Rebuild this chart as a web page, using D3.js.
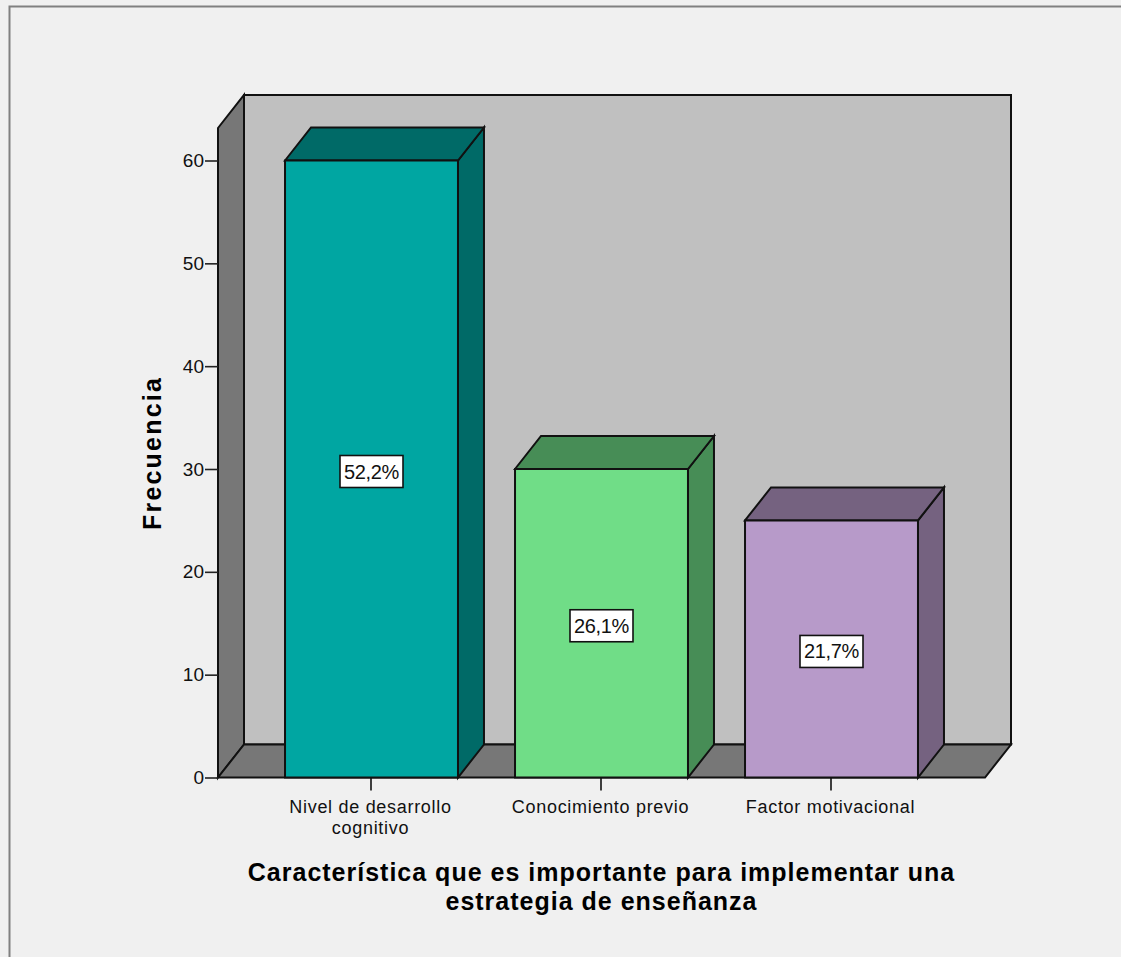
<!DOCTYPE html>
<html><head><meta charset="utf-8">
<script src="https://cdnjs.cloudflare.com/ajax/libs/d3/7.8.5/d3.min.js"></script>
<style>html,body{margin:0;padding:0;background:#fff}svg{display:block}text{font-family:"Liberation Sans",Arial,sans-serif;fill:#111}</style>
</head><body><div id="c"></div>
<script>
const categories=["Nivel de desarrollo|cognitivo","Conocimiento previo","Factor motivacional"];
const frequencies=[60,30,25];
const percentLabels=["52,2%","26,1%","21,7%"];
const frontColors=["#00a6a2","#70dd87","#b79ac9"];
const sideColors=["#006a67","#478d56","#756280"];
const yTicks=[0,10,20,30,40,50,60];
const xTitle=["Característica que es importante para implementar una","estrategia de enseñanza"];
const yTitle="Frecuencia";

const W=1121,H=957;
const svg=d3.select("#c").append("svg").attr("width",W).attr("height",H);
svg.append("rect").attr("width",W).attr("height",H).attr("fill","#f0f0f0");
svg.append("path").attr("d",`M9.5,${H} V6.5 H${W}`).attr("fill","none").attr("stroke","#808080").attr("stroke-width",2);

const x0=218,x1=985,dx=26,dy=33;
const y=d3.scaleLinear().domain([0,60]).range([777.5,160.5]);
const x=d3.scaleBand().domain(categories).range([256.5,946.5]).paddingInner(0.248).paddingOuter(0.124);
const yBack=95;
const lineStyle={stroke:"#111","stroke-width":2,"stroke-linejoin":"miter"};
function poly(pts,fill){const p=svg.append("polygon").attr("points",pts.map(d=>d.join(",")).join(" ")).attr("fill",fill);
 for(const k in lineStyle)p.attr(k,lineStyle[k]);return p;}
const yb=y(0);
poly([[x0+dx,yBack],[1011,yBack],[1011,yb-dy],[x0+dx,yb-dy]],"#c0c0c0");
poly([[x0,yBack+dy],[x0+dx,yBack],[x0+dx,yb-dy],[x0,yb]],"#777777");
poly([[x0,yb],[x0+dx,yb-dy],[1011,yb-dy],[x1,yb]],"#777777");

categories.forEach((c,i)=>{
 const l=x(c),r=l+x.bandwidth(),t=y(frequencies[i]);
 poly([[r,t],[r+dx,t-dy],[r+dx,yb-dy],[r,yb]],sideColors[i]);
 poly([[l,t],[l+dx,t-dy],[r+dx,t-dy],[r,t]],sideColors[i]);
 poly([[l,t],[r,t],[r,yb],[l,yb]],frontColors[i]);
 const cx=(l+r)/2, cy=y(frequencies[i]/2);
 svg.append("rect").attr("x",cx-31.5).attr("y",cy-13.5).attr("width",63).attr("height",32).attr("fill","#fff").attr("stroke","#111").attr("stroke-width",1.6);
 svg.append("text").attr("x",cx).attr("y",cy+9.5).attr("text-anchor","middle").attr("font-size",20).attr("letter-spacing",-0.3).text(percentLabels[i]);
 svg.append("line").attr("x1",cx-0.5).attr("x2",cx-0.5).attr("y1",yb).attr("y2",yb+13).attr("stroke","#111").attr("stroke-width",1.6);
 const lbl=svg.append("text").attr("text-anchor","middle").attr("font-size",18).attr("letter-spacing",0.7);
 c.split("|").forEach((s,j)=>lbl.append("tspan").attr("x",cx-1).attr("y",yb+35.5+j*21).text(s));
});

const ax=svg.append("g").attr("transform",`translate(${x0},0)`).call(d3.axisLeft(y).tickValues(yTicks).tickSize(13).tickPadding(1).tickFormat(d3.format("d")));
ax.select(".domain").remove();
ax.selectAll("line").attr("stroke","#222").attr("stroke-width",1.6);
ax.selectAll("text").attr("font-size",19).attr("font-family",'"Liberation Sans",Arial,sans-serif').attr("fill","#111");

svg.append("text").attr("transform","translate(161,453) rotate(-90)").attr("text-anchor","middle").attr("font-size",25).attr("font-weight","bold").attr("letter-spacing",2.2).style("fill","#000").text(yTitle);
xTitle.forEach((s,i)=>svg.append("text").attr("x",601.5).attr("y",881+i*29).attr("text-anchor","middle").attr("font-size",25).attr("font-weight","bold").attr("letter-spacing",1).style("fill","#000").text(s));
</script></body></html>
